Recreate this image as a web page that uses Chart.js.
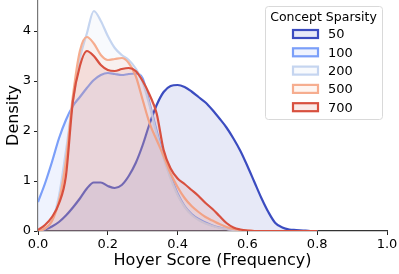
<!DOCTYPE html>
<html lang="en">
<head>
<meta charset="UTF-8">
<title>Hoyer Score density</title>
<script src="https://cdn.jsdelivr.net/npm/chart.js"></script>
<style>
  html, body { margin: 0; padding: 0; background: #fff; }
  #wrap { width: 399px; height: 274px; }
</style>
</head>
<body>
<div id="wrap"><canvas id="kde" width="399" height="274"></canvas></div>
<script>
// shared x grid (Hoyer score)
const hoyer = [0.00, 0.02, 0.04, 0.06, 0.08, 0.10, 0.12, 0.14, 0.16, 0.18,
               0.20, 0.22, 0.24, 0.26, 0.28, 0.30, 0.32, 0.34, 0.36, 0.38,
               0.40, 0.42, 0.44, 0.46, 0.48, 0.50, 0.52, 0.54, 0.56, 0.58,
               0.60, 0.62, 0.64, 0.66, 0.68, 0.70, 0.72, 0.74, 0.76, 0.78, 0.80];

const sparsityLevels = ['50', '100', '200', '500', '700'];

// density per sparsity level
const dens50  = [0.00, 0.03, 0.09, 0.18, 0.31, 0.47, 0.65, 0.85, 0.97, 0.97,
                 0.90, 0.86, 0.92, 1.10, 1.36, 1.72, 2.15, 2.52, 2.78, 2.90,
                 2.92, 2.88, 2.79, 2.68, 2.57, 2.42, 2.25, 2.07, 1.85, 1.60,
                 1.30, 0.98, 0.66, 0.38, 0.16, 0.07, 0.03, 0.02, 0.01, 0.00, 0.00];
const dens100 = [0.58, 0.95, 1.38, 1.85, 2.22, 2.50, 2.68, 2.86, 3.02, 3.12,
                 3.16, 3.14, 3.12, 3.14, 3.15, 3.05, 2.55, 2.00, 1.50, 1.10,
                 0.75, 0.50, 0.34, 0.24, 0.17, 0.11, 0.07, 0.04, 0.02, 0.01,
                 0.00, 0.00, 0.00, 0.00, 0.00, 0.00, 0.00, 0.00, 0.00, 0.00, 0.00];
const dens200 = [0.00, 0.05, 0.20, 0.70, 1.60, 2.60, 3.45, 3.95, 4.40, 4.20,
                 3.90, 3.66, 3.52, 3.42, 3.25, 2.98, 2.50, 1.95, 1.45, 1.05,
                 0.72, 0.48, 0.32, 0.22, 0.15, 0.10, 0.06, 0.04, 0.02, 0.01,
                 0.00, 0.00, 0.00, 0.00, 0.00, 0.00, 0.00, 0.00, 0.00, 0.00, 0.00];
const dens500 = [0.00, 0.05, 0.20, 0.60, 1.40, 2.70, 3.60, 3.88, 3.75, 3.52,
                 3.42, 3.44, 3.46, 3.36, 3.10, 2.62, 2.15, 1.82, 1.50, 1.15,
                 0.88, 0.66, 0.50, 0.38, 0.28, 0.21, 0.14, 0.08, 0.04, 0.02,
                 0.01, 0.00, 0.00, 0.00, 0.00, 0.00, 0.00, 0.00, 0.00, 0.00, 0.00];
const dens700 = [0.02, 0.12, 0.28, 0.55, 1.10, 2.60, 3.30, 3.60, 3.50, 3.32,
                 3.22, 3.20, 3.24, 3.26, 3.20, 3.00, 2.72, 2.35, 1.62, 1.25,
                 1.05, 0.94, 0.82, 0.70, 0.56, 0.44, 0.30, 0.16, 0.07, 0.03,
                 0.01, 0.00, 0.00, 0.00, 0.00, 0.00, 0.00, 0.00, 0.00, 0.00, 0.00];

const xTicks = [0.0, 0.2, 0.4, 0.6, 0.8, 1.0];
const yTicks = [0, 1, 2, 3, 4];

const lineColors = ['#3b4cc0', '#7b9ff9', '#c5d5f0', '#f6ad8f', '#d8503f'];
const allDens = [dens50, dens100, dens200, dens500, dens700];

function rgba(hex, a) {
  const n = parseInt(hex.slice(1), 16);
  return `rgba(${n >> 16},${(n >> 8) & 255},${n & 255},${a})`;
}

const datasets = sparsityLevels.map((lvl, i) => ({
  label: lvl,
  data: hoyer.map((x, j) => ({ x: x, y: allDens[i][j] })),
  borderColor: lineColors[i],
  backgroundColor: rgba(lineColors[i], 0.12),
  borderWidth: 2.2,
  fill: 'origin',
  pointRadius: 0,
  cubicInterpolationMode: 'monotone',
  order: sparsityLevels.length - i
}));

// legend box drawn inside the plot, top right
const boxLegend = {
  id: 'boxLegend',
  afterDraw(chart) {
    const c = chart.ctx;
    const bx = 265, by = 6, bw = 117, bh = 113;
    c.save();
    c.beginPath();
    c.roundRect(bx + 0.5, by + 0.5, bw, bh, 3);
    c.fillStyle = 'rgba(255,255,255,0.8)';
    c.fill();
    c.strokeStyle = '#d9d9d9';
    c.lineWidth = 1;
    c.stroke();
    c.fillStyle = '#000';
    c.font = '12.5px "DejaVu Sans"';
    c.textAlign = 'center';
    c.textBaseline = 'middle';
    c.fillText('Concept Sparsity', bx + bw / 2, by + 11.5);
    c.textAlign = 'left';
    c.font = '13px "DejaVu Sans"';
    sparsityLevels.forEach((lvl, i) => {
      const cy = 34 + i * 18.3;
      c.fillStyle = rgba(lineColors[i], 0.12);
      c.fillRect(293, cy - 4, 25, 8);
      c.strokeStyle = lineColors[i];
      c.lineWidth = 2.2;
      c.strokeRect(293, cy - 4, 25, 8);
      c.fillStyle = '#000';
      c.fillText(lvl, 328, cy + 1);
    });
    c.restore();
  }
};

new Chart(document.getElementById('kde'), {
  type: 'line',
  data: { datasets: datasets },
  options: {
    responsive: false,
    animation: false,
    layout: { padding: { top: 0, right: 12, bottom: 0, left: 0 } },
    plugins: { legend: { display: false }, tooltip: { enabled: false } },
    scales: {
      x: {
        type: 'linear',
        min: 0, max: 1.0,
        afterBuildTicks: s => { s.ticks = xTicks.map(v => ({ value: v })); },
        afterFit: s => { s.height = 43; s.paddingLeft = 0; s.paddingRight = 0; },
        ticks: {
          color: '#000',
          font: { family: 'DejaVu Sans', size: 13 },
          padding: 2,
          maxRotation: 0,
          callback: v => v.toFixed(1)
        },
        grid: { drawOnChartArea: false, tickLength: 4, tickColor: '#222' },
        border: { color: '#333', width: 1.2 },
        title: {
          display: true, text: 'Hoyer Score (Frequency)', color: '#000',
          font: { family: 'DejaVu Sans', size: 16 }, padding: { top: 2 }
        }
      },
      y: {
        min: 0, max: 4.62,
        afterBuildTicks: s => { s.ticks = yTicks.map(v => ({ value: v })); },
        afterFit: s => { s.width = 38; s.paddingTop = 0; s.paddingBottom = 0; },
        ticks: {
          color: '#000',
          font: { family: 'DejaVu Sans', size: 13 },
          padding: 3
        },
        grid: { drawOnChartArea: false, tickLength: 4, tickColor: '#222' },
        border: { color: '#777', width: 1.2 },
        title: {
          display: true, text: 'Density', color: '#000',
          font: { family: 'DejaVu Sans', size: 16 }, padding: { bottom: 0 }
        }
      }
    }
  },
  plugins: [boxLegend]
});
</script>
</body>
</html>
